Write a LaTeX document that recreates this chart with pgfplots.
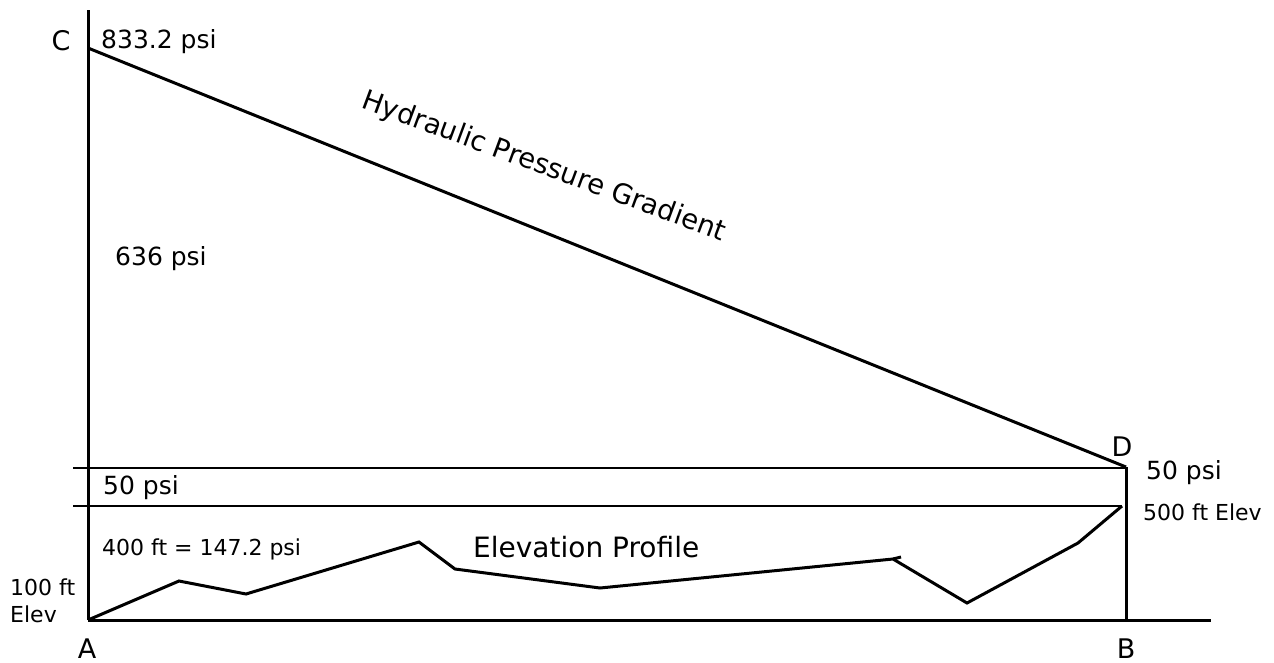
\documentclass[border=0pt]{standalone}
\usepackage{pgfplots}
\pgfplotsset{compat=1.18}
\usepackage{fontspec}
\setmainfont{DejaVu Sans}
\newcommand{\fs}[1]{\fontsize{#1}{#1}\selectfont}
\begin{document}
\begin{tikzpicture}
\begin{axis}[
  scale only axis, width=1274pt, height=662pt,
  xmin=0, xmax=1274, ymin=0, ymax=662, y dir=reverse,
  hide axis, clip=false,
]
\path (axis cs:0,0) rectangle (axis cs:1274,662);
% frame lines
\addplot[black, line width=3pt] coordinates {(88,10) (88,620)};
\addplot[black, line width=3pt] coordinates {(88,620) (1211,620)};
\addplot[black, line width=3pt] coordinates {(1126,467) (1126,620)};
% thin reference lines
\addplot[black, line width=1.5pt] coordinates {(73,468) (1126,468)};
\addplot[black, line width=1.5pt] coordinates {(73,506) (1122,506)};
% hydraulic gradient
\addplot[black, line width=3pt] coordinates {(88,48) (1126,467)};
% elevation profile
\addplot[black, line width=3pt] coordinates {
 (88,620) (179,581) (246,594) (419,542) (455,569) (600,588)
 (893,559) (967,603) (1078,543) (1122,506)};
\addplot[black, line width=3pt] coordinates {(893,559) (901,557)};
% labels
\node[anchor=base, inner sep=0] at (axis cs:61,50) {\fs{27}C};
\node[anchor=base west, inner sep=0] at (axis cs:101,48) {\fs{25}833.2 psi};
\node[anchor=base west, inner sep=0] at (axis cs:115,265) {\fs{25}636 psi};
\node[anchor=base west, inner sep=0] at (axis cs:103,494) {\fs{25}50 psi};
\node[anchor=base west, inner sep=0] at (axis cs:102,555) {\fs{22}400 ft = 147.2 psi};
\node[anchor=base west, inner sep=0] at (axis cs:10,595) {\fs{22}100 ft};
\node[anchor=base west, inner sep=0] at (axis cs:10,622) {\fs{22}Elev};
\node[anchor=base, inner sep=0] at (axis cs:87,658) {\fs{27}A};
\node[anchor=base, inner sep=0] at (axis cs:1126,658) {\fs{27}B};
\node[anchor=base, inner sep=0] at (axis cs:1122,456) {\fs{27}D};
\node[anchor=base west, inner sep=0] at (axis cs:1146,479) {\fs{25}50 psi};
\node[anchor=base west, inner sep=0] at (axis cs:1143,520) {\fs{22}500 ft Elev};
\node[anchor=base west, inner sep=0] at (axis cs:473,557) {\fs{28}Elevation Profile};
\node[anchor=base, inner sep=0, rotate=-20.3] at (axis cs:541,174) {\fs{27.5}Hydraulic Pressure Gradient};
\end{axis}
\end{tikzpicture}
\end{document}
